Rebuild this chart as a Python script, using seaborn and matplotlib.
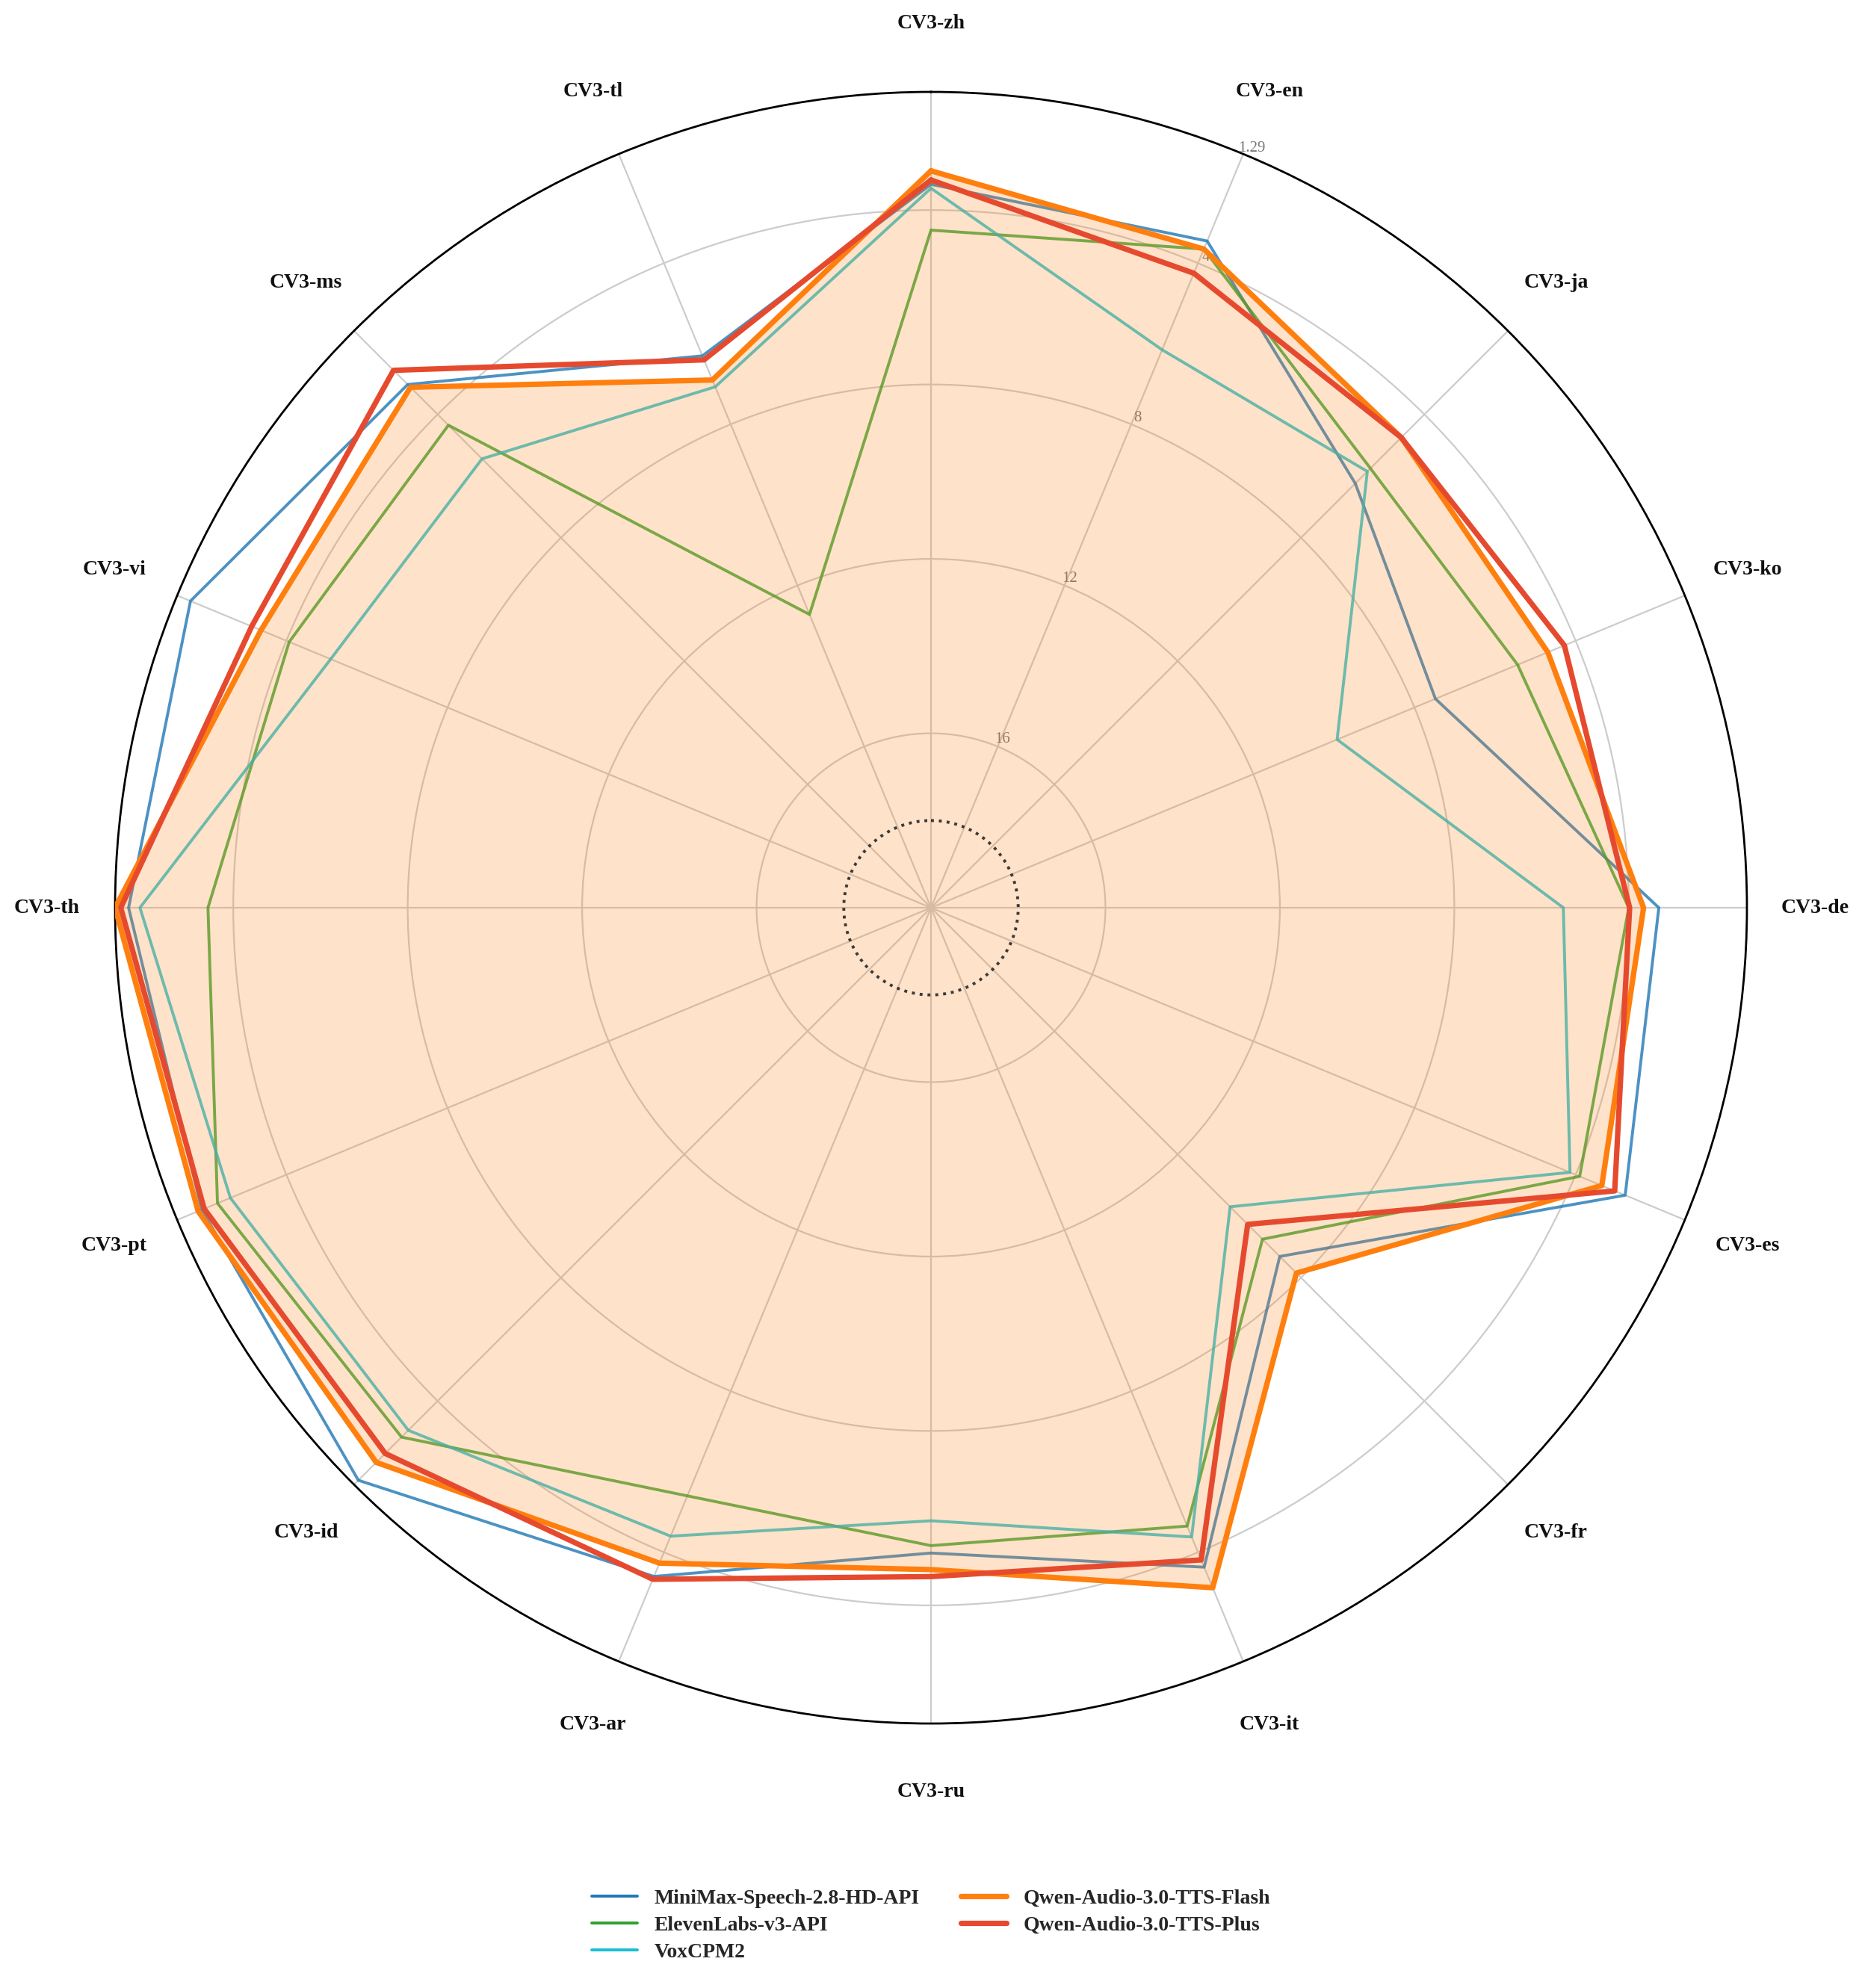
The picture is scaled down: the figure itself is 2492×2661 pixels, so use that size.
import numpy as np
import matplotlib
matplotlib.use("Agg")
import matplotlib.pyplot as plt
from matplotlib.lines import Line2D
import seaborn as sns

# ---------------- data ----------------
categories = ["CV3-zh", "CV3-en", "CV3-ja", "CV3-ko", "CV3-de", "CV3-es", "CV3-fr", "CV3-it",
              "CV3-ru", "CV3-ar", "CV3-id", "CV3-pt", "CV3-th", "CV3-vi", "CV3-ms", "CV3-tl"]

minimax = [3.41, 3.45, 6.24, 7.48, 3.31, 2.77, 8.69, 3.63, 5.20, 3.40, 1.43, 1.90, 1.60, 1.62, 3.03, 6.30]
elevenlabs = [4.46, 3.65, 5.75, 5.44, 4.00, 3.90, 9.25, 4.65, 5.37, 5.40, 2.83, 2.29, 3.42, 4.07, 4.35, 12.72]
voxcpm2 = [3.50, 6.15, 5.85, 9.92, 5.50, 4.14, 10.30, 4.38, 5.94, 4.40, 3.05, 2.61, 1.86, 5.10, 5.44, 7.07]
qwen_flash = [3.10, 3.65, 4.75, 4.69, 3.66, 3.35, 8.15, 3.12, 4.82, 3.73, 2.01, 1.81, 1.29, 3.37, 3.12, 6.90]
qwen_plus = [3.31, 4.25, 4.75, 4.28, 3.98, 3.03, 9.73, 3.81, 4.66, 3.33, 2.30, 1.96, 1.42, 3.14, 2.57, 6.40]

series_names = ["MiniMax-Speech-2.8-HD-API", "ElevenLabs-v3-API", "VoxCPM2",
                "Qwen-Audio-3.0-TTS-Flash", "Qwen-Audio-3.0-TTS-Plus"]
series_values = [minimax, elevenlabs, voxcpm2, qwen_flash, qwen_plus]

r_center = 20.0          # value at the centre (scale inverted: lower is better)
r_edge = 1.29            # value at the outer edge
ring_values = [4, 8, 12, 16]
reference_ring = 18

# ---------------- style ----------------
colors = ["#1f77b4", "#2ca02c", "#17becf", "#ff7f0e", "#e64a2e"]
widths = [1.4, 1.4, 1.4, 2.6, 2.6]
alphas = [0.8, 0.8, 0.8, 1.0, 1.0]
zorders = [2, 2, 2, 5, 6]

sns.set_theme(style="whitegrid")
plt.rcParams["font.family"] = ["Liberation Serif", "DejaVu Serif"]

fig = plt.figure(figsize=(12.46, 13.305), dpi=200)
ax = fig.add_axes([0.0618, 0.1330, 0.8764, 0.8208], projection="polar")
ax.set_theta_zero_location("N")
ax.set_theta_direction(-1)

n = len(categories)
theta = np.linspace(0, 2 * np.pi, n, endpoint=False)
theta_closed = np.append(theta, 2 * np.pi)

for vals, col, lw, al, z in zip(series_values, colors, widths, alphas, zorders):
    vc = np.append(vals, vals[0])
    sns.lineplot(x=theta_closed, y=vc, ax=ax, color=col, linewidth=lw, alpha=al,
                 sort=False, estimator=None, zorder=z, legend=False)

# fill of the Flash model
flash_closed = np.append(qwen_flash, qwen_flash[0])
ax.fill(theta_closed, flash_closed, color="#ff7f0e", alpha=0.22, lw=0, zorder=3)

# dotted reference ring
t_ring = np.linspace(0, 2 * np.pi, 400)
ax.plot(t_ring, np.full_like(t_ring, reference_ring), linestyle=(0, (1, 1.7)),
        color="#3a3a3a", lw=1.4, zorder=4)

ax.set_ylim(r_center, r_edge)
ax.set_yticks(ring_values)
ax.set_yticklabels([])
ax.set_xticks(theta)
ax.set_xticklabels([])
ax.set_xlabel("")
ax.set_ylabel("")
ax.grid(True, color="#cccccc", lw=0.8)
ax.set_axisbelow(True)
ax.spines["polar"].set_color("black")
ax.spines["polar"].set_linewidth(1.0)

# radial tick labels along the CV3-en spoke
label_angle = np.deg2rad(22.9)
for v in [r_edge] + ring_values:
    ax.text(label_angle, v - 0.19, f"{v:g}", ha="center", va="center",
            fontsize=7.5, color="#777777", zorder=2.6)

# category labels
for t, c in zip(theta, categories):
    ax.text(t, r_edge - 1.56, c, ha="center", va="center", fontsize=10,
            fontweight="bold", color="#111111", clip_on=False)

handles = [Line2D([0], [0], color=c, lw=w) for c, w in zip(colors, widths)]
fig.legend(handles, series_names, loc="center", bbox_to_anchor=(0.5, 0.0316), ncol=2,
           frameon=False, prop={"weight": "bold", "size": 10}, handlelength=2.2,
           handletextpad=0.8, columnspacing=2.0, labelspacing=0.38)

fig.savefig("out.png", dpi=200)
